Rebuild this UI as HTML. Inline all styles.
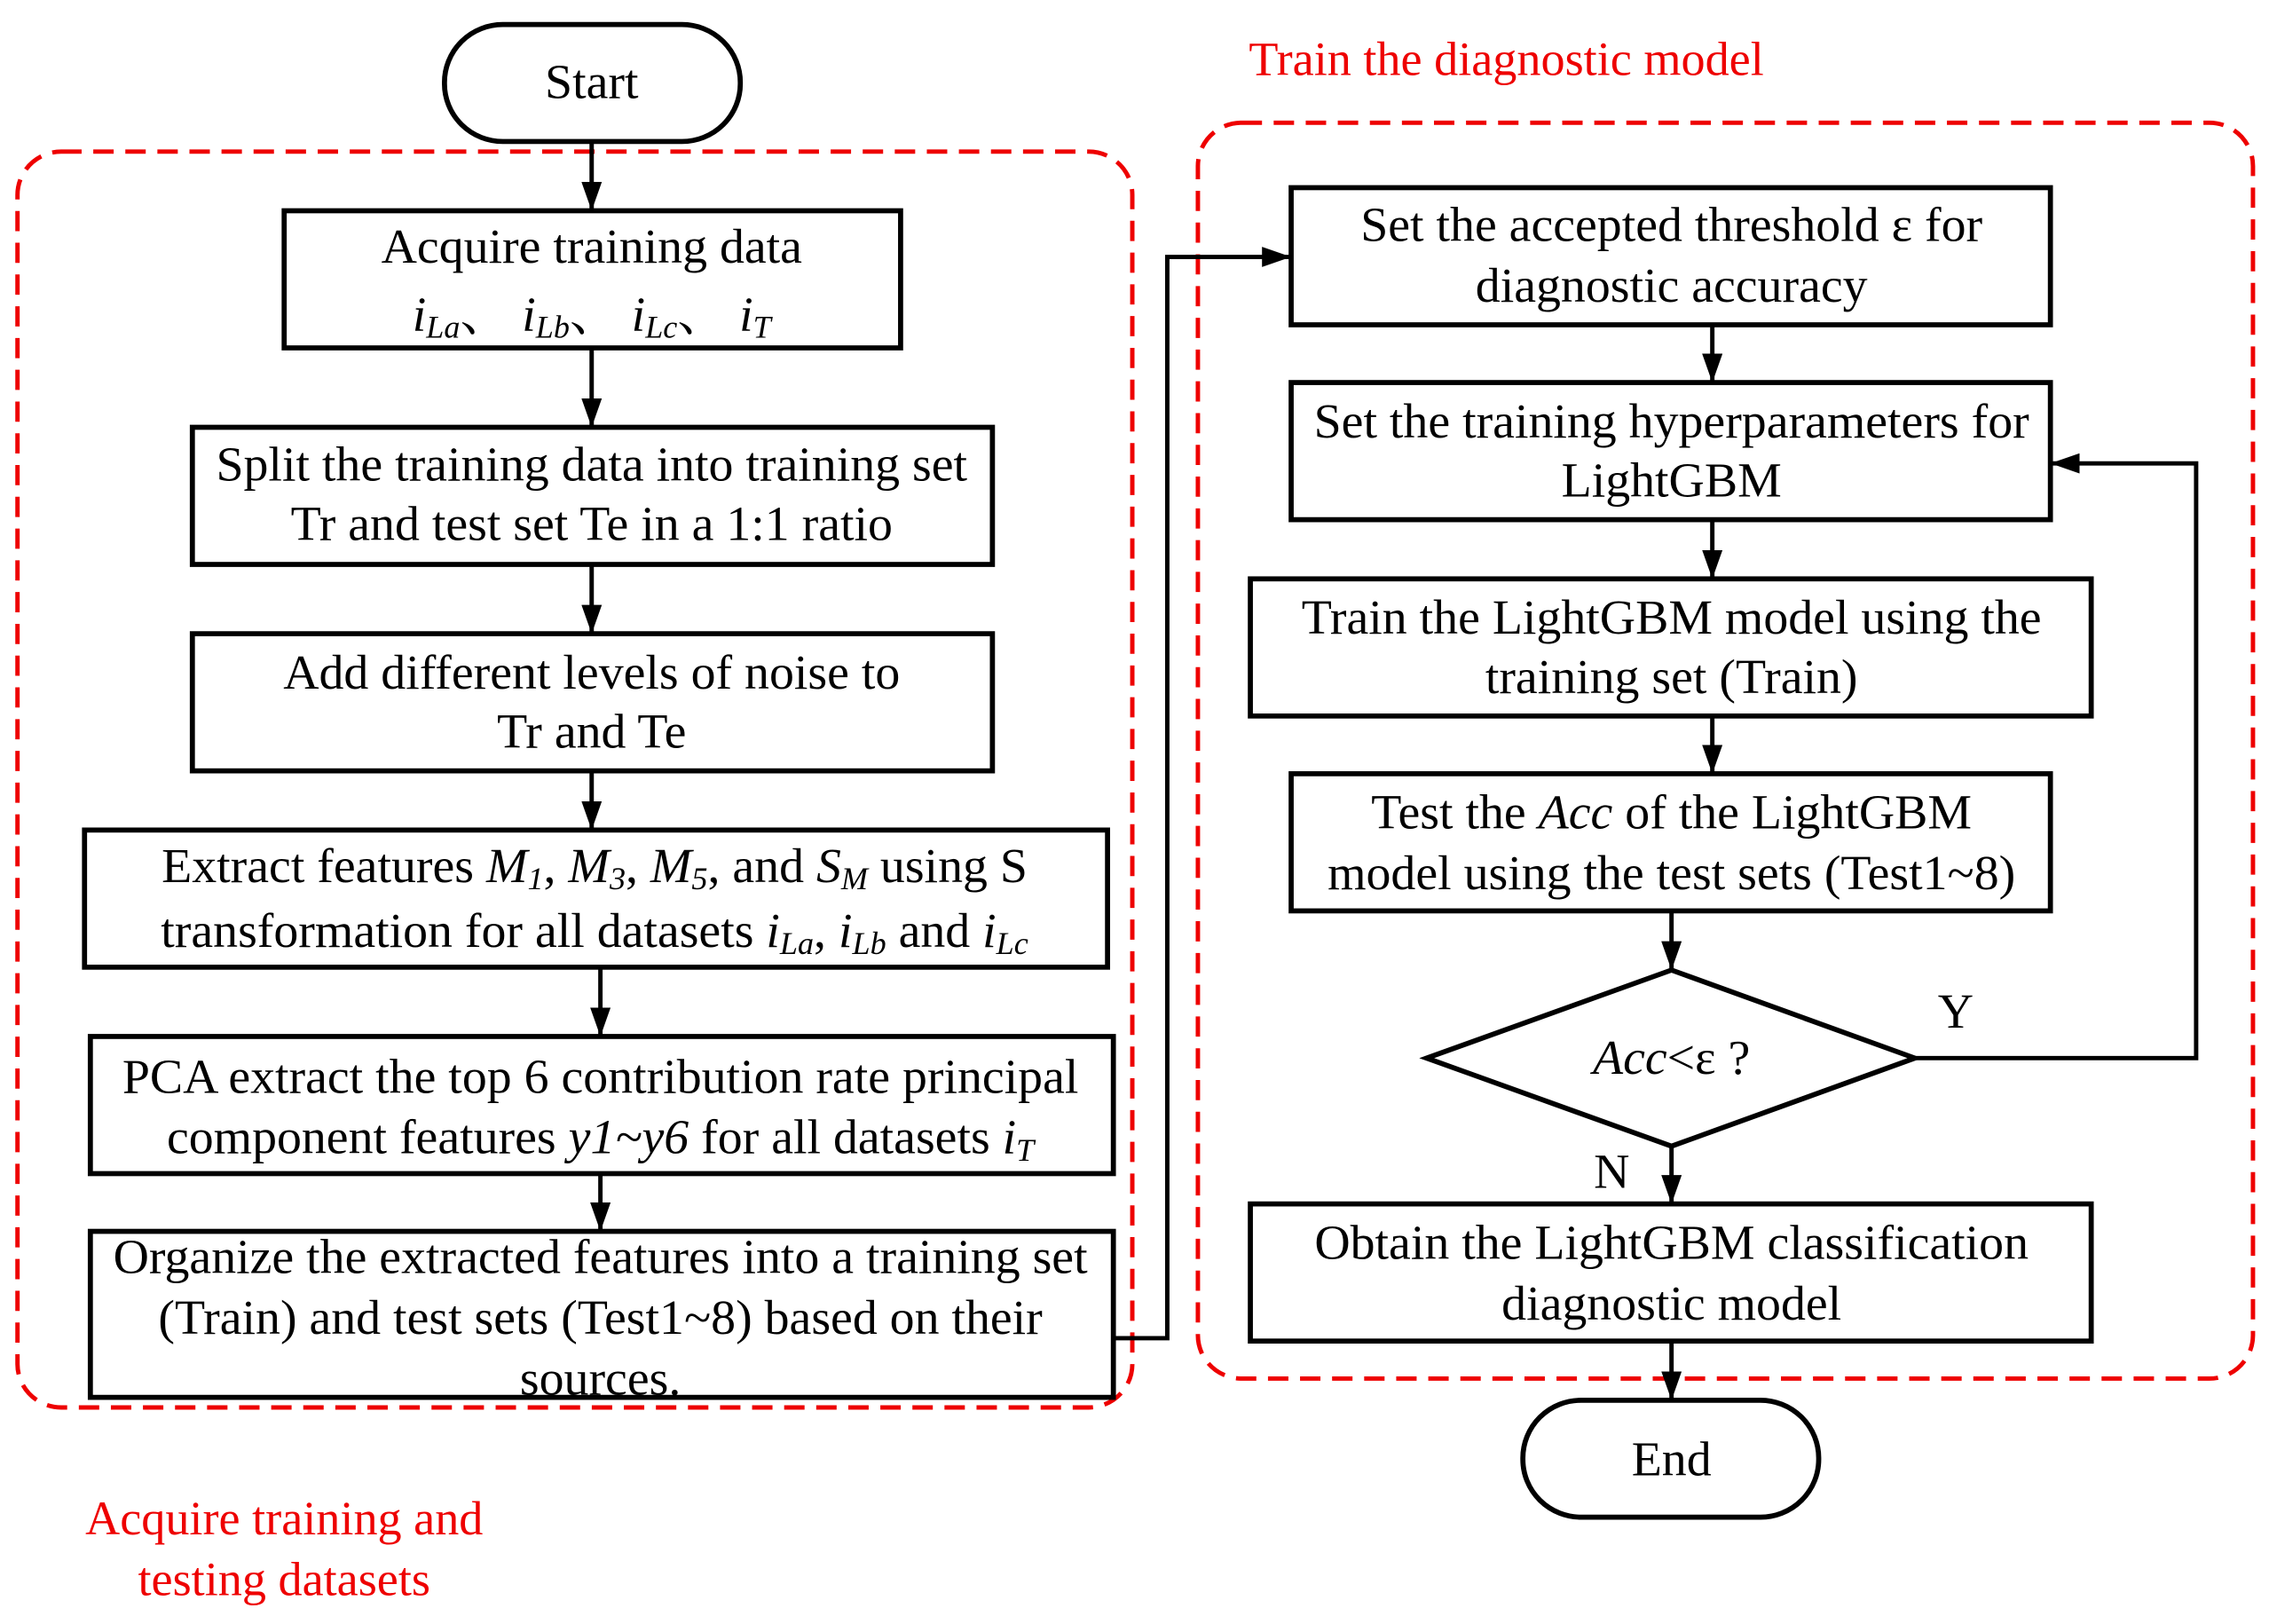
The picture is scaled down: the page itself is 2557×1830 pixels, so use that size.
<!DOCTYPE html>
<html><head><meta charset="utf-8"><style>
html,body{margin:0;padding:0;background:#fff;}
svg{display:block;}
text{font-family:"Liberation Serif","Noto Serif CJK SC",serif;font-size:34px;fill:#000;}
.r{fill:#e00;font-size:33px;}
.i{font-style:italic;}
</style></head><body>
<svg width="2557" height="1830" viewBox="0 0 1557 1125" preserveAspectRatio="none" xmlns="http://www.w3.org/2000/svg">
<defs><marker id="a" markerWidth="20" markerHeight="14" refX="20" refY="7" orient="auto" markerUnits="userSpaceOnUse" viewBox="0 0 20 14"><path d="M0,0 L20,7 L0,14 Z" fill="#000"/></marker></defs>
<g fill="none" stroke="#e00" stroke-width="3" stroke-dasharray="14,8">
<rect x="12" y="105" width="765" height="870" rx="30"/>
<rect x="822" y="85" width="724" height="870" rx="30"/>
</g>
<g fill="#fff" stroke="#000" stroke-width="3.5">
<rect x="305" y="17" width="203" height="81" rx="40"/>
<rect x="1045" y="970" width="203" height="81" rx="40"/>
<rect x="195" y="146" width="423" height="95"/>
<rect x="132" y="296" width="549" height="95"/>
<rect x="132" y="439" width="549" height="95"/>
<rect x="58" y="575" width="702" height="95"/>
<rect x="62" y="718" width="702" height="95"/>
<rect x="62" y="853" width="702" height="115"/>
<rect x="886" y="130" width="521" height="95"/>
<rect x="886" y="265" width="521" height="95"/>
<rect x="858" y="401" width="577" height="95"/>
<rect x="886" y="536" width="521" height="95"/>
<rect x="858" y="834" width="577" height="95"/>
<polygon points="979,733 1147,672 1314,733 1147,794"/>
</g>
<g fill="none" stroke="#000" stroke-width="3" marker-end="url(#a)">
<line x1="406" y1="98" x2="406" y2="146"/>
<line x1="406" y1="241" x2="406" y2="296"/>
<line x1="406" y1="391" x2="406" y2="439"/>
<line x1="406" y1="534" x2="406" y2="575"/>
<line x1="412" y1="670" x2="412" y2="718"/>
<line x1="412" y1="813" x2="412" y2="853"/>
<polyline points="764,927 801,927 801,178 886,178"/>
<line x1="1175" y1="225" x2="1175" y2="265"/>
<line x1="1175" y1="360" x2="1175" y2="401"/>
<line x1="1175" y1="496" x2="1175" y2="536"/>
<line x1="1147" y1="631" x2="1147" y2="672"/>
<line x1="1147" y1="794" x2="1147" y2="834"/>
<line x1="1147" y1="929" x2="1147" y2="970"/>
<polyline points="1314,733 1507,733 1507,321 1407,321"/>
</g>
<g text-anchor="middle">
<text x="406" y="68">Start</text>
<text x="1147" y="1022">End</text>
<text x="406" y="182">Acquire training data</text>
<text x="406" y="229" class="i">i<tspan font-size="22" dy="5">La</tspan><tspan dy="-5" font-style="normal">、 </tspan>i<tspan font-size="22" dy="5">Lb</tspan><tspan dy="-5" font-style="normal">、 </tspan>i<tspan font-size="22" dy="5">Lc</tspan><tspan dy="-5" font-style="normal">、 </tspan>i<tspan font-size="22" dy="5">T</tspan></text>
<text x="406" y="333">Split the training data into training set</text>
<text x="406" y="374">Tr and test set Te in a 1:1 ratio</text>
<text x="406" y="477">Add different levels of noise to</text>
<text x="406" y="518">Tr and Te</text>
<text x="408" y="611">Extract features <tspan class="i">M<tspan font-size="22" dy="5">1</tspan></tspan><tspan dy="-5">, </tspan><tspan class="i">M<tspan font-size="22" dy="5">3</tspan></tspan><tspan dy="-5">, </tspan><tspan class="i">M<tspan font-size="22" dy="5">5</tspan></tspan><tspan dy="-5">, and </tspan><tspan class="i">S<tspan font-size="22" dy="5">M</tspan></tspan><tspan dy="-5"> using S</tspan></text>
<text x="408" y="656">transformation for all datasets <tspan class="i">i<tspan font-size="22" dy="5">La</tspan></tspan><tspan dy="-5">, </tspan><tspan class="i">i<tspan font-size="22" dy="5">Lb</tspan></tspan><tspan dy="-5"> and </tspan><tspan class="i">i<tspan font-size="22" dy="5">Lc</tspan></tspan></text>
<text x="412" y="757">PCA extract the top 6 contribution rate principal</text>
<text x="412" y="799">component features <tspan class="i">y1~y6</tspan> for all datasets <tspan class="i">i<tspan font-size="22" dy="5">T</tspan></tspan></text>
<text x="412" y="882">Organize the extracted features into a training set</text>
<text x="412" y="924">(Train) and test sets (Test1~8) based on their</text>
<text x="412" y="966">sources.</text>
<text x="1147" y="167">Set the accepted threshold ε for</text>
<text x="1147" y="209">diagnostic accuracy</text>
<text x="1147" y="303">Set the training hyperparameters for</text>
<text x="1147" y="344">LightGBM</text>
<text x="1147" y="439">Train the LightGBM model using the</text>
<text x="1147" y="480">training set (Train)</text>
<text x="1147" y="574">Test the  <tspan class="i">Acc</tspan> of the LightGBM</text>
<text x="1147" y="616">model using the test sets (Test1~8)</text>
<text x="1147" y="744"><tspan class="i">Acc</tspan>&lt;ε ?</text>
<text x="1147" y="872">Obtain the LightGBM classification</text>
<text x="1147" y="914">diagnostic model</text>
<text x="1342" y="712" font-size="21">Y</text>
<text x="1106" y="823" font-size="21">N</text>
<text class="r" x="195" y="1063">Acquire training and</text>
<text class="r" x="195" y="1105">testing datasets</text>
</g>
<text class="r" x="857" y="52">Train the diagnostic model</text>
</svg>
</body></html>
